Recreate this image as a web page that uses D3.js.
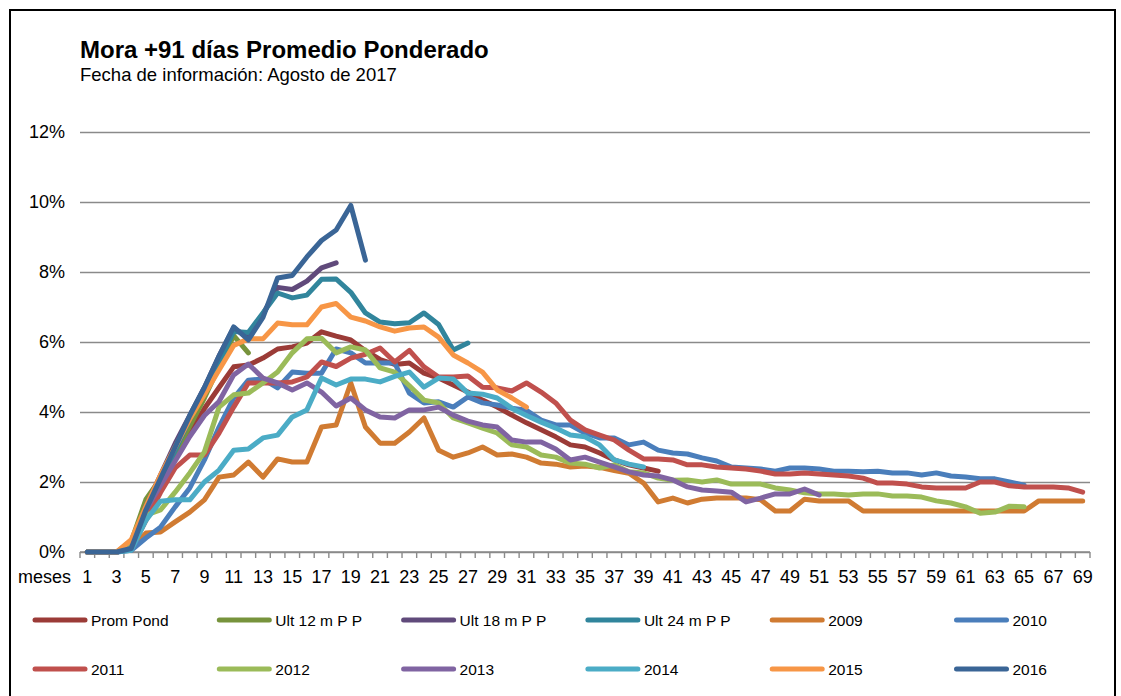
<!DOCTYPE html>
<html>
<head>
<meta charset="utf-8">
<script src="https://cdn.jsdelivr.net/npm/d3@7"></script>
<style>
  html, body { margin: 0; padding: 0; background: #fff; }
  svg { display: block; font-family: Arial, "Liberation Sans", sans-serif; }
</style>
</head>
<body>
<svg id="chart" width="1121" height="696"></svg>
<script>
// ---- data ----
const months = d3.range(1, 70);
const xTickLabels = months.filter(m => m % 2 === 1);
const yTicks = [0, 2, 4, 6, 8, 10, 12];
const seriesNames = ["Prom Pond", "Ult 12 m P P", "Ult 18 m P P", "Ult 24 m P P", "2009", "2010",
                     "2011", "2012", "2013", "2014", "2015", "2016"];
const seriesColors = ["#9B3B37", "#77933C", "#604A7B", "#31859C", "#D07B32", "#4A7EBB",
                      "#C0504D", "#9BBB59", "#8064A2", "#4BACC6", "#F79646", "#3A6596"];

const promPond = [0,0,0,0.1,1.1,1.9,2.7,3.4,4.1,4.7,
  5.29,5.34,5.54,5.8,5.86,5.97,6.29,6.17,6.06,5.75,
  5.5,5.36,5.4,5.11,4.97,4.77,4.57,4.34,4.14,3.91,
  3.69,3.49,3.29,3.06,3.0,2.83,2.63,2.49,2.4,2.31];
const ult12 = [0,0,0,0.3,1.5,2.1,2.8,3.6,4.4,5.3,6.18,5.69];
const ult18 = [0,0,0,0.1,1.3,2.2,3.1,3.9,4.7,5.6,6.4,6.12,6.8,7.56,7.5,7.74,8.12,8.26];
const ult24 = [0,0,0,0.1,1.2,2.0,2.9,3.8,4.6,5.4,6.3,6.27,6.83,7.4,7.26,7.34,7.79,7.8,7.42,6.83,
  6.57,6.52,6.55,6.83,6.5,5.77,5.97];
const y2009 = [0,0,0,0.1,0.54,0.57,0.86,1.14,1.49,2.14,
  2.2,2.57,2.14,2.66,2.57,2.57,3.57,3.63,4.83,3.57,
  3.11,3.11,3.43,3.83,2.91,2.71,2.83,3.0,2.77,2.8,
  2.71,2.54,2.51,2.43,2.46,2.42,2.33,2.25,1.97,1.43,
  1.54,1.4,1.51,1.54,1.54,1.54,1.49,1.17,1.17,1.51,
  1.46,1.46,1.46,1.17,1.17,1.17,1.17,1.17,1.17,1.17,
  1.17,1.17,1.17,1.17,1.17,1.46,1.46,1.46,1.46];
const y2010 = [0,0,0,0.05,0.4,0.71,1.29,1.83,2.63,3.57,
  4.4,4.91,4.94,4.69,5.14,5.11,5.11,5.8,5.69,5.4,
  5.4,5.4,4.54,4.26,4.29,4.14,4.43,4.26,4.2,4.11,
  4.05,3.77,3.63,3.63,3.4,3.26,3.26,3.06,3.14,2.91,
  2.83,2.8,2.69,2.6,2.43,2.4,2.37,2.31,2.4,2.4,
  2.37,2.31,2.31,2.29,2.31,2.26,2.26,2.2,2.26,2.17,
  2.14,2.09,2.09,2.0,1.91];
const y2011 = [0,0,0,0.1,0.9,1.7,2.4,2.77,2.77,3.4,
  4.14,4.83,4.83,4.83,4.86,5.0,5.43,5.3,5.54,5.65,
  5.83,5.43,5.76,5.29,5.0,5.0,5.03,4.71,4.69,4.6,
  4.83,4.57,4.26,3.77,3.49,3.34,3.2,2.91,2.66,2.66,
  2.63,2.49,2.49,2.43,2.4,2.37,2.31,2.23,2.23,2.26,
  2.23,2.2,2.17,2.11,1.97,1.97,1.94,1.86,1.83,1.83,
  1.83,2.0,2.0,1.89,1.86,1.86,1.86,1.83,1.71];
const y2012 = [0,0,0,0.2,1.05,1.2,1.71,2.26,2.86,4.14,
  4.49,4.54,4.83,5.14,5.69,6.09,6.11,5.69,5.86,5.77,
  5.26,5.14,4.75,4.34,4.26,3.83,3.69,3.54,3.4,3.06,
  3.0,2.77,2.71,2.54,2.51,2.4,2.49,2.29,2.26,2.11,
  2.05,2.06,2.0,2.06,1.94,1.94,1.94,1.83,1.77,1.69,
  1.66,1.66,1.63,1.66,1.66,1.6,1.6,1.57,1.46,1.4,
  1.29,1.11,1.14,1.31,1.29];
const y2013 = [0,0,0,0.1,1.2,1.9,2.6,3.3,3.9,4.3,
  5.06,5.37,4.97,4.83,4.63,4.83,4.57,4.17,4.4,4.06,
  3.86,3.83,4.06,4.06,4.14,3.91,3.74,3.63,3.57,3.2,
  3.14,3.14,2.94,2.63,2.71,2.57,2.43,2.29,2.2,2.17,
  2.06,1.86,1.77,1.74,1.71,1.43,1.54,1.66,1.66,1.8,
  1.63];
const y2014 = [0,0,0,0.05,0.9,1.45,1.49,1.49,2.0,2.34,
  2.91,2.94,3.26,3.34,3.86,4.06,4.97,4.77,4.94,4.94,
  4.86,5.02,5.14,4.71,4.97,4.94,4.54,4.51,4.4,4.11,
  3.9,3.71,3.54,3.34,3.29,3.06,2.63,2.51,2.43];
const y2015 = [0,0,0,0.35,1.3,2.2,3.0,3.8,4.5,5.2,
  5.9,6.09,6.09,6.54,6.49,6.49,7.0,7.1,6.71,6.6,
  6.43,6.31,6.4,6.43,6.14,5.63,5.4,5.14,4.63,4.4,
  4.14];
const y2016 = [0,0,0,0.1,1.2,2.1,3.0,3.9,4.7,5.6,
  6.43,6.06,6.7,7.83,7.9,8.43,8.9,9.2,9.9,8.34];

const seriesValues = [promPond, ult12, ult18, ult24, y2009, y2010,
                      y2011, y2012, y2013, y2014, y2015, y2016];

// ---- layout ----
const svg = d3.select("#chart");
const W = 1121, H = 696;
const plot = { left: 80, right: 1090, top: 132, bottom: 552 };
const FONT = 'Arial, "Liberation Sans", sans-serif';

svg.append("rect").attr("width", W).attr("height", H).attr("fill", "#fff");
svg.append("rect").attr("x", 10).attr("y", 10).attr("width", 1105).attr("height", 700)
  .attr("fill", "none").attr("stroke", "#000").attr("stroke-width", 2);

svg.append("text").attr("x", 80).attr("y", 58)
  .attr("font-size", 24).attr("font-weight", "bold").attr("fill", "#000")
  .text("Mora +91 días Promedio Ponderado");
svg.append("text").attr("x", 80).attr("y", 81)
  .attr("font-size", 18.5).attr("fill", "#000")
  .text("Fecha de información: Agosto de 2017");

const x = d3.scaleBand().domain(months).range([plot.left, plot.right]).padding(0);
const y = d3.scaleLinear().domain([0, 12]).range([plot.bottom, plot.top]);
const cx = m => x(m) + x.bandwidth() / 2;

// gridlines + y labels
const yAxis = d3.axisLeft(y).tickValues(yTicks)
  .tickSize(-(plot.right - plot.left)).tickFormat(d => d + "%").tickPadding(15);
const gy = svg.append("g").attr("transform", `translate(${plot.left},0)`).call(yAxis);
gy.select(".domain").remove();
gy.selectAll(".tick line").attr("stroke", "#8a8a8a").attr("stroke-width", 1.6);
gy.selectAll(".tick text").attr("font-size", 18).attr("font-family", FONT).attr("fill", "#000");

// x axis: tick marks at category boundaries
const gx = svg.append("g").attr("transform", `translate(0,${plot.bottom})`);
gx.append("line").attr("x1", plot.left).attr("x2", plot.right)
  .attr("stroke", "#8a8a8a").attr("stroke-width", 1.6);
gx.selectAll("line.tk").data(months.concat([70])).join("line").attr("class", "tk")
  .attr("x1", m => m === 70 ? plot.right : x(m)).attr("x2", m => m === 70 ? plot.right : x(m))
  .attr("y1", 0).attr("y2", 6).attr("stroke", "#8a8a8a").attr("stroke-width", 1.4);
gx.selectAll("text.lbl").data(xTickLabels).join("text").attr("class", "lbl")
  .attr("x", m => cx(m)).attr("y", 31).attr("text-anchor", "middle")
  .attr("font-size", 18).attr("fill", "#000").text(d => d);
gx.append("text").attr("x", 18).attr("y", 31).attr("font-size", 18).attr("fill", "#000").text("meses");

// lines
const line = d3.line().x((d, i) => cx(i + 1)).y(d => y(d))
  .defined(d => d !== null && d !== undefined);
svg.append("g").selectAll("path").data(seriesValues).join("path")
  .attr("d", d => line(d))
  .attr("fill", "none")
  .attr("stroke", (d, i) => seriesColors[i])
  .attr("stroke-width", 5)
  .attr("stroke-linejoin", "round")
  .attr("stroke-linecap", "round");

// legend
const leg = svg.append("g");
seriesNames.forEach((name, i) => {
  const col = i % 6, row = Math.floor(i / 6);
  const lx = 33 + col * 184.3, ly = 620 + row * 49;
  leg.append("line").attr("x1", lx + 2).attr("x2", lx + 52).attr("y1", ly).attr("y2", ly)
    .attr("stroke", seriesColors[i]).attr("stroke-width", 5).attr("stroke-linecap", "round");
  leg.append("text").attr("x", lx + 58).attr("y", ly + 5.5).attr("font-size", 15.5)
    .attr("fill", "#000").text(name);
});
</script>
</body>
</html>
